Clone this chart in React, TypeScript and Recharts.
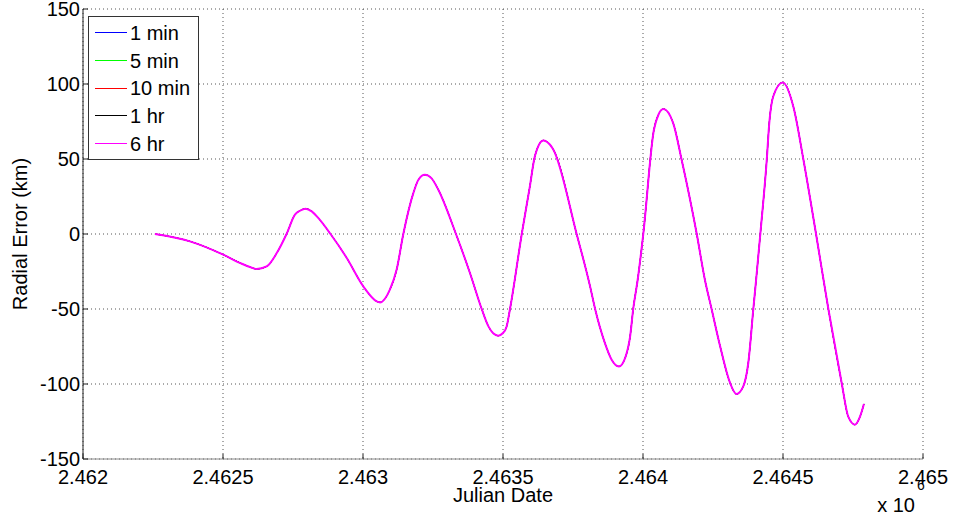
import React from 'react';
import {
  CartesianGrid,
  Label,
  Legend,
  Line,
  LineChart,
  XAxis,
  YAxis,
} from 'recharts';

// Julian date of each sample
const julianDate = [
  2462257, 2462382, 2462501, 2462561, 2462596, 2462620, 2462656, 2462692,
  2462727, 2462757, 2462775, 2462795, 2462817, 2462840, 2462884, 2462942,
  2463001, 2463049, 2463061, 2463096, 2463120, 2463144, 2463180, 2463198,
  2463221, 2463245, 2463269, 2463332, 2463382, 2463424, 2463448, 2463465,
  2463483, 2463499, 2463513, 2463525, 2463567, 2463596, 2463614, 2463644,
  2463668, 2463680, 2463763, 2463811, 2463829, 2463864, 2463888, 2463914,
  2463936, 2463954, 2463965, 2463981, 2464001, 2464039, 2464055, 2464073,
  2464108, 2464138, 2464192, 2464221, 2464245, 2464275, 2464311, 2464334,
  2464358, 2464376, 2464394, 2464404, 2464419, 2464442, 2464451, 2464465,
  2464499, 2464537, 2464573, 2464618, 2464662, 2464710, 2464733, 2464757,
  2464775, 2464789,
];

// radial error in km; all five step sizes overlap on this scale
const radialError = [
  0, -4.9, -13.8, -19.3, -22, -23.3, -21.6, -12.7,
  0, 12.9, 15.5, 16.9, 15.1, 10.7, 0, -16,
  -34.9, -44.9, -45.6, -37.1, -23.9, 0, 27.4, 36.2,
  39.5, 37.1, 29.5, 0, -26, -50, -61.6, -66.2,
  -67.8, -66.2, -61.6, -50, 0, 31.8, 52, 62.4,
  59.5, 56.2, 0, -34.9, -50, -72.7, -83.8, -88.3,
  -82.7, -68.3, -50, -30.5, 0, 69.5, 79.5, 83.3,
  73.8, 49.5, 0, -30.5, -50, -74.5, -99.3, -106.7,
  -101.6, -86, -50, -30.5, 0, 49.5, 74, 91.7,
  101, 84.9, 49.5, 0, -50, -99.8, -121.8, -127.1,
  -121.8, -113.3,
];

const seriesNames = ['1 min', '5 min', '10 min', '1 hr', '6 hr'];
const seriesColors = ['#0000ff', '#00ff00', '#ff0000', '#000000', '#ff00ff'];

const xTicks = [2462000, 2462500, 2463000, 2463500, 2464000, 2464500, 2465000];
const yTicks = [-150, -100, -50, 0, 50, 100, 150];

const font = '"Liberation Sans", Arial, Helvetica, sans-serif';
const tickStyle = { fontSize: 20, fill: '#000', fontFamily: font };

// legend drawn from our own arrays so order and colours match the figure
function LegendBox() {
  return (
    <div
      style={{
        border: '1px solid #333',
        background: '#fff',
        width: 109,
        height: 140,
        paddingTop: 2,
        boxSizing: 'content-box',
        fontFamily: font,
        fontSize: 20,
        color: '#000',
      }}
    >
      {seriesNames.map((name, k) => (
        <div
          key={name}
          style={{ display: 'flex', alignItems: 'center', height: 27.7 }}
        >
          <div
            style={{
              marginLeft: 6,
              width: 32,
              height: 0,
              borderTop: `1.5px solid ${seriesColors[k]}`,
            }}
          />
          <span style={{ marginLeft: 3, lineHeight: '20px' }}>{name}</span>
        </div>
      ))}
    </div>
  );
}

export default function App() {
  const data = julianDate.map((jd, i) => {
    const row: any = { jd };
    seriesNames.forEach((_, k) => {
      row['s' + k] = radialError[i];
    });
    return row;
  });

  return (
    <div>
      <style>{'body { margin: 0; overflow: hidden; }'}</style>
      <LineChart
        width={953}
        height={520}
        data={data}
        margin={{ top: 9, right: 30, left: 8, bottom: 8 }}
        style={{ fontFamily: font }}
      >
        <CartesianGrid stroke="#555" strokeDasharray="1 3" />
        <XAxis
          dataKey="jd"
          type="number"
          domain={[2462000, 2465000]}
          ticks={xTicks}
          tickFormatter={(v: number) => String(v / 1e6)}
          height={53}
          tick={tickStyle}
          tickSize={-5}
          tickMargin={16}
          stroke="#888"
          tickLine={{ stroke: '#222' }}
          interval={0}
        >
          <Label
            content={(p: any) => {
              const vb = p.viewBox;
              return (
                <text
                  x={vb.x + vb.width / 2}
                  y={vb.y + 43}
                  textAnchor="middle"
                  fontSize={20}
                  fontFamily={font}
                  fill="#000"
                >
                  Julian Date
                </text>
              );
            }}
          />
          <Label
            content={(p: any) => {
              const vb = p.viewBox;
              const right = vb.x + vb.width;
              return (
                <g fontFamily={font} fill="#000">
                  <text x={right - 8} y={vb.y + 53} textAnchor="end" fontSize={20}>
                    x 10
                  </text>
                  <text x={right - 6} y={vb.y + 31} fontSize={14}>
                    6
                  </text>
                </g>
              );
            }}
          />
        </XAxis>
        <XAxis
          xAxisId="top"
          orientation="top"
          type="number"
          domain={[2462000, 2465000]}
          ticks={xTicks}
          height={0}
          tick={false}
          tickSize={-5}
          stroke="#222"
        />
        <YAxis
          type="number"
          domain={[-150, 150]}
          ticks={yTicks}
          width={75}
          tick={tickStyle}
          tickSize={-5}
          tickMargin={8}
          stroke="#222"
          interval={0}
        >
          <Label
            content={(p: any) => {
              const vb = p.viewBox;
              const cx = vb.x + 12;
              const cy = vb.y + vb.height / 2;
              return (
                <text
                  x={cx}
                  y={cy}
                  transform={`rotate(-90 ${cx} ${cy})`}
                  textAnchor="middle"
                  dominantBaseline="central"
                  fontSize={20}
                  fontFamily={font}
                  fill="#000"
                >
                  Radial Error (km)
                </text>
              );
            }}
          />
        </YAxis>
        <YAxis
          yAxisId="right"
          orientation="right"
          type="number"
          domain={[-150, 150]}
          ticks={yTicks}
          width={0}
          tick={false}
          tickSize={-5}
          stroke="#222"
        />
        <Legend
          layout="vertical"
          align="center"
          verticalAlign="middle"
          content={<LegendBox />}
          wrapperStyle={{ left: 88, top: 16, width: 111, height: 142 }}
        />
        {seriesNames.map((name, k) => (
          <Line
            key={name}
            type="monotone"
            dataKey={'s' + k}
            name={name}
            stroke={seriesColors[k]}
            strokeWidth={k === seriesNames.length - 1 ? 2 : 1}
            dot={false}
            isAnimationActive={false}
          />
        ))}
      </LineChart>
    </div>
  );
}
